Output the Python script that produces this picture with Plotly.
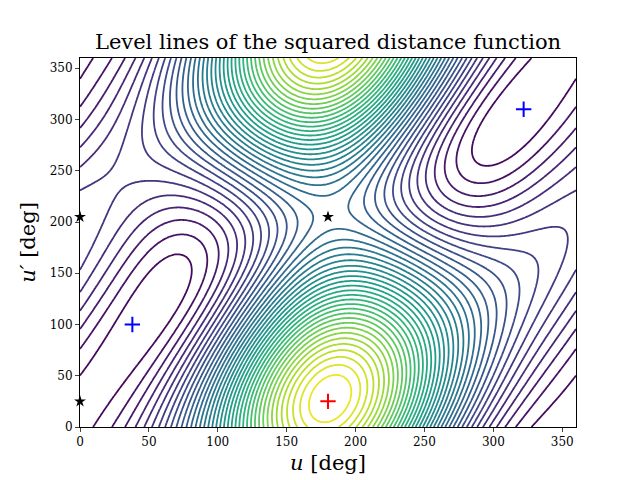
import numpy as np
import plotly.graph_objects as go

# orbital elements: semimajor axis, eccentricity, inclination [deg],
# angle from node to perihelion [deg]
orbit1 = dict(a=1.0, e=0.79, inc=0.0, peri=-90.0)
orbit2 = dict(a=0.55, e=0.286, inc=30.0, peri=-116.0)

# critical points marked in the reference
max_pts = ([180], [25])
min_pts = ([38, 322], [100, 310])
saddle_pts = ([180, 0, 0], [205, 205, 25])

u_deg = np.linspace(0, 360, 361)


def position(orb, E):
    a, e = orb["a"], orb["e"]
    xp = a * (np.cos(E) - e)
    yp = a * np.sqrt(1 - e**2) * np.sin(E)
    w, inc = np.radians([orb["peri"], orb["inc"]])
    # in-plane coordinates: along node (+y) and perpendicular (m)
    cn = xp * np.cos(w) - yp * np.sin(w)
    cm = xp * np.sin(w) + yp * np.cos(w)
    return (-cm * np.cos(inc), cn, cm * np.sin(inc))


U, V = np.meshgrid(np.radians(u_deg), np.radians(u_deg))
p1 = position(orbit1, U)
p2 = position(orbit2, V)
d2 = sum((c1 - c2) ** 2 for c1, c2 in zip(p1, p2))

fig = go.Figure()
fig.add_trace(go.Contour(
    x=u_deg, y=u_deg, z=d2, colorscale="Viridis", showscale=False,
    contours=dict(coloring="lines", start=float(d2.min()), end=float(d2.max()),
                  size=(d2.max() - d2.min()) / 40),
    line=dict(width=1.8), hoverinfo="skip"))
fig.add_trace(go.Scatter(x=max_pts[0], y=max_pts[1], mode="markers",
                         marker=dict(symbol="cross-thin", size=11, color="red",
                                     line=dict(width=2, color="red"))))
fig.add_trace(go.Scatter(x=min_pts[0], y=min_pts[1], mode="markers",
                         marker=dict(symbol="cross-thin", size=11, color="blue",
                                     line=dict(width=2, color="blue"))))
fig.add_trace(go.Scatter(x=saddle_pts[0], y=saddle_pts[1], mode="markers",
                         marker=dict(symbol="star", size=9, color="black"),
                         cliponaxis=False))

axis = dict(range=[0, 360], dtick=50, showgrid=False, zeroline=False,
            showline=True, linecolor="black", mirror=True, ticks="outside",
            ticklen=4, tickfont=dict(size=12), automargin=False)
fig.update_layout(
    width=640, height=480, showlegend=False,
    paper_bgcolor="white", plot_bgcolor="white",
    font=dict(family="DejaVu Serif", color="black"),
    title=dict(text="Level lines of the squared distance function", x=0.5,
               xanchor="center", yref="container", y=0.93, yanchor="middle",
               font=dict(size=21)),
    margin=dict(l=72, r=72, t=50, b=61),
    xaxis=dict(axis, title=dict(text="<i>u</i> [deg]", font=dict(size=21),
                                standoff=6)),
    yaxis=dict(axis, title=dict(text="<i>u′</i> [deg]", font=dict(size=21),
                                standoff=8)),
)
fig.write_html("out.html")
